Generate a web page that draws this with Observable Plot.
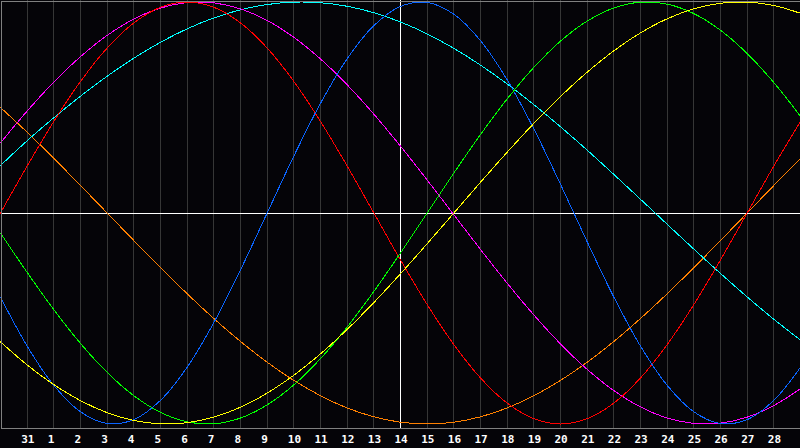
<!DOCTYPE html>
<html>
<head>
<meta charset="utf-8">
<script src="https://cdn.jsdelivr.net/npm/d3@7"></script>
<script src="https://cdn.jsdelivr.net/npm/@observablehq/plot@0.6"></script>
<style>
  html, body { margin: 0; padding: 0; background: #050408; }
  #chart { width: 800px; height: 448px; }
</style>
</head>
<body>
<div id="chart"></div>
<script>
// Day-of-month labels for positions 0..30 (centre = 14)
const dates = ["30","31","1","2","3","4","5","6","7","8","9","10","11","12","13","14","15","16","17","18","19","20","21","22","23","24","25","26","27","28","29"];
const centerIndex = 15;

const physical = [-0.3984,-0.6310,-0.8169,-0.9422,-0.9977,-0.9791,-0.8879,-0.7309,-0.5196,-0.2698,0,0.2698,0.5196,0.7309,0.8879,0.9791,0.9977,0.9422,0.8169,0.6310,0.3984,0.1362,-0.1362,-0.3984,-0.6310,-0.8169,-0.9422,-0.9977,-0.9791,-0.8879,-0.7309];
const emotional = [0,0.2225,0.4339,0.6235,0.7818,0.9010,0.9749,1,0.9749,0.9010,0.7818,0.6235,0.4339,0.2225,0,-0.2225,-0.4339,-0.6235,-0.7818,-0.9010,-0.9749,-1,-0.9749,-0.9010,-0.7818,-0.6235,-0.4339,-0.2225,0,0.2225,0.4339];
const intellectual = [-0.0950,-0.2817,-0.4582,-0.6182,-0.7557,-0.8660,-0.9450,-0.9898,-0.9989,-0.9718,-0.9096,-0.8146,-0.6901,-0.5406,-0.3717,-0.1893,0,0.1893,0.3717,0.5406,0.6901,0.8146,0.9096,0.9718,0.9989,0.9898,0.9450,0.8660,0.7557,0.6182,0.4582];
const intuitive = [0.3325,0.4832,0.6205,0.7411,0.8417,0.9191,0.9714,0.9972,0.9959,0.9674,0.9124,0.8326,0.7300,0.6076,0.4685,0.3168,0.1564,-0.0082,-0.1728,-0.3325,-0.4832,-0.6205,-0.7411,-0.8417,-0.9191,-0.9714,-0.9972,-0.9959,-0.9674,-0.9124,-0.8326];
const aesthetic = [-0.6111,-0.7199,-0.8133,-0.8893,-0.9464,-0.9833,-0.9993,-0.9940,-0.9675,-0.9204,-0.8536,-0.7686,-0.6674,-0.5518,-0.4245,-0.2880,-0.1456,0,0.1456,0.2880,0.4245,0.5518,0.6674,0.7686,0.8536,0.9204,0.9675,0.9940,0.9993,0.9833,0.9464];
const awareness = [0.5,0.3827,0.2588,0.1305,0,-0.1305,-0.2588,-0.3827,-0.5,-0.6088,-0.7071,-0.7934,-0.8660,-0.9239,-0.9659,-0.9914,-1,-0.9914,-0.9659,-0.9239,-0.8660,-0.7934,-0.7071,-0.6088,-0.5,-0.3827,-0.2588,-0.1305,0,0.1305,0.2588];
const spiritual = [0.2250,0.3427,0.4514,0.5537,0.6483,0.7336,0.8090,0.8729,0.9245,0.9631,0.9881,0.9994,0.9966,0.9798,0.9492,0.9053,0.8488,0.7803,0.7008,0.6115,0.5136,0.4085,0.2977,0.1827,0.0652,-0.0534,-0.1711,-0.2864,-0.3977,-0.5035,-0.6023];

const seriesNames = ["Awareness","Spiritual","Intuitive","Emotional","Physical","Intellectual","Aesthetic"];
const seriesValues = [awareness, spiritual, intuitive, emotional, physical, intellectual, aesthetic];
const seriesColors = ["#ff8000","#00ffff","#ff00ff","#ff0000","#0a64ff","#00ff00","#ffff00"];

const rows = [];
seriesNames.forEach((name, s) => {
  seriesValues[s].forEach((v, i) => rows.push({series: name, day: i, value: v}));
});
const tickDays = dates.map((d, i) => i).filter(i => i > 0 && i < dates.length - 1);

const chart = Plot.plot({
  width: 800,
  height: 448,
  marginTop: 0,
  marginBottom: 20,
  marginLeft: 0,
  marginRight: 0,
  style: {background: "#050408", color: "white", overflow: "visible"},
  x: {domain: [0, dates.length - 1], range: [0, 800], axis: null},
  y: {domain: [-1, 1], range: [423.5, 1.5], axis: null},
  color: {domain: seriesNames, range: seriesColors},
  marks: [
    Plot.ruleX(tickDays, {stroke: "#363636", strokeWidth: 1, shapeRendering: "crispEdges"}),
    Plot.ruleY([0], {stroke: "white", strokeWidth: 1, shapeRendering: "crispEdges"}),
    Plot.ruleX([centerIndex], {stroke: "white", strokeWidth: 1, shapeRendering: "crispEdges"}),
    Plot.line(rows, {x: "day", y: "value", z: "series", stroke: "series", strokeWidth: 1, curve: "catmull-rom", shapeRendering: "crispEdges"}),
    Plot.frame({stroke: "#808080", insetTop: 0.5, insetLeft: 0.5, insetBottom: 0.5, insetRight: -0.5, shapeRendering: "crispEdges"}),
    Plot.axisX(tickDays, {
      tickSize: 0,
      tickPadding: 7,
      tickFormat: i => dates[i],
      textAnchor: "start",
      dx: -6,
      fill: "white",
      fontWeight: "bold",
      fontSize: 11,
      fontFamily: "DejaVu Sans Mono",
      label: null
    })
  ]
});
document.getElementById("chart").appendChild(chart);
</script>
</body>
</html>
